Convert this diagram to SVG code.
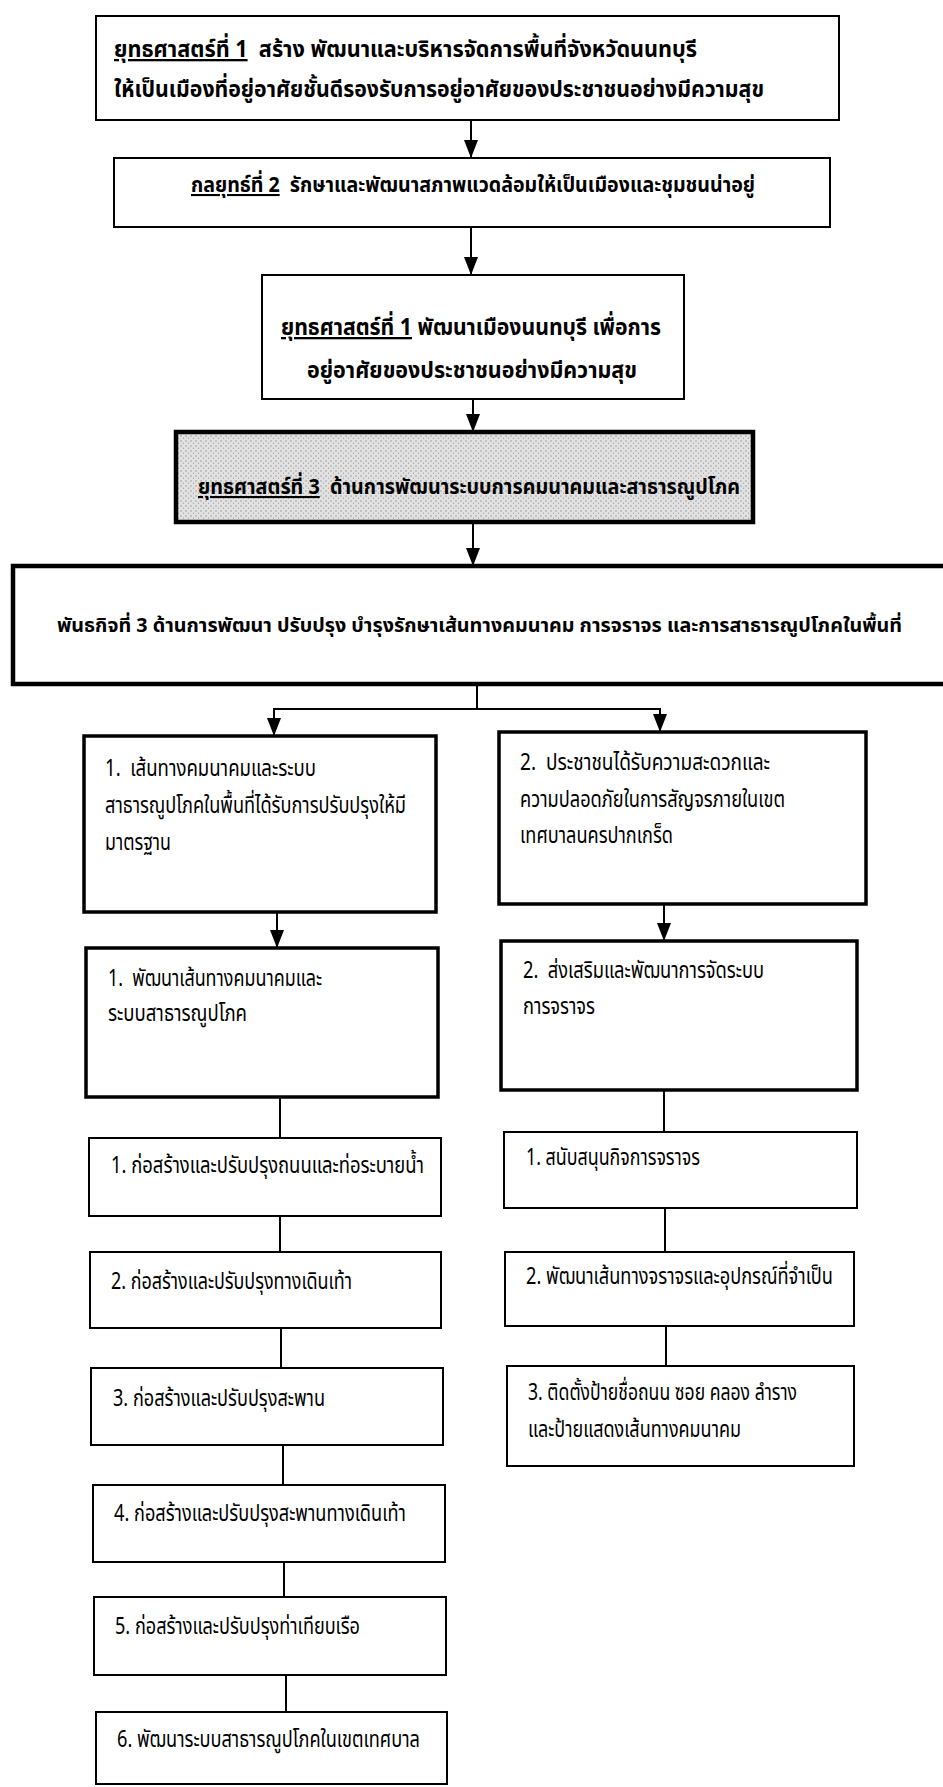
<svg xmlns="http://www.w3.org/2000/svg" width="943" height="1787" viewBox="0 0 943 1787">
<style>
.t{font-family:"Noto Sans Thai","Noto Sans","DejaVu Sans",sans-serif;font-size:23px;fill:#000}
.b{font-weight:bold}
.u{text-decoration:underline}
.box{fill:#fff;stroke:#000;stroke-width:2}
.thick{stroke-width:3.5}
.heavy{stroke-width:4.5}
.c{fill:none;stroke:#000;stroke-width:2}
</style>
<defs>
<pattern id="dots" width="5" height="5" patternUnits="userSpaceOnUse">
<rect width="5" height="5" fill="#e2e2e2"/>
<circle cx="1" cy="1" r="0.7" fill="#8a8a8a"/>
<circle cx="3.5" cy="3.2" r="0.6" fill="#9a9a9a"/>
</pattern>
<marker id="arr" markerWidth="18" markerHeight="14" refX="18" refY="7" orient="auto" markerUnits="userSpaceOnUse" viewBox="0 0 18 14">
<path d="M0,0 L18,7 L0,14 Z" fill="#000"/>
</marker>
</defs>

<g id="connectors">
<line class="c" x1="471" y1="120" x2="471" y2="158" marker-end="url(#arr)"/>
<line class="c" x1="471" y1="227" x2="471" y2="275" marker-end="url(#arr)"/>
<line class="c" x1="473" y1="399" x2="473" y2="432" marker-end="url(#arr)"/>
<line class="c" x1="473" y1="522" x2="473" y2="566" marker-end="url(#arr)"/>
<polyline class="c" points="477,684 477,709 274,709 274,736" marker-end="url(#arr)"/>
<polyline class="c" points="477,709 660,709 660,732" marker-end="url(#arr)"/>
<line class="c" x1="277" y1="912" x2="277" y2="948" marker-end="url(#arr)"/>
<line class="c" x1="664" y1="904" x2="664" y2="941" marker-end="url(#arr)"/>
<line class="c" x1="280" y1="1097" x2="280" y2="1138"/>
<line class="c" x1="664" y1="1090" x2="664" y2="1132"/>
<line class="c" x1="280" y1="1216" x2="280" y2="1252"/>
<line class="c" x1="665" y1="1208" x2="665" y2="1252"/>
<line class="c" x1="281" y1="1328" x2="281" y2="1368"/>
<line class="c" x1="666" y1="1326" x2="666" y2="1366"/>
<line class="c" x1="283" y1="1445" x2="283" y2="1485"/>
<line class="c" x1="284" y1="1562" x2="284" y2="1597"/>
<line class="c" x1="286" y1="1675" x2="286" y2="1712"/>
</g>

<g id="n1">
<rect class="box" x="96" y="16" width="743" height="104"/>
<text class="t b" x="114" y="57" textLength="583" lengthAdjust="spacingAndGlyphs" xml:space="preserve"><tspan class="u">ยุทธศาสตร์ที่ 1</tspan>  สร้าง พัฒนาและบริหารจัดการพื้นที่จังหวัดนนทบุรี</text>
<text class="t b" x="114" y="97" textLength="650" lengthAdjust="spacingAndGlyphs">ให้เป็นเมืองที่อยู่อาศัยชั้นดีรองรับการอยู่อาศัยของประชาชนอย่างมีความสุข</text>
</g>

<g id="n2">
<rect class="box" x="114" y="158" width="716" height="69"/>
<text class="t b" x="191" y="192" style="font-size:21px" textLength="564" lengthAdjust="spacingAndGlyphs" xml:space="preserve"><tspan class="u">กลยุทธ์ที่ 2</tspan>  รักษาและพัฒนาสภาพแวดล้อมให้เป็นเมืองและชุมชนน่าอยู่</text>
</g>

<g id="n3">
<rect class="box" x="262" y="275" width="422" height="124"/>
<text class="t b" x="281" y="335" textLength="380" lengthAdjust="spacingAndGlyphs"><tspan class="u">ยุทธศาสตร์ที่ 1</tspan> พัฒนาเมืองนนทบุรี เพื่อการ</text>
<text class="t b" x="307" y="378" textLength="330" lengthAdjust="spacingAndGlyphs">อยู่อาศัยของประชาชนอย่างมีความสุข</text>
</g>

<g id="n4">
<rect class="box heavy" x="176" y="432" width="577" height="90" style="fill:url(#dots)"/>
<text class="t b" x="198" y="494" style="font-size:21px" textLength="542" lengthAdjust="spacingAndGlyphs" xml:space="preserve"><tspan class="u">ยุทธศาสตร์ที่ 3</tspan>  ด้านการพัฒนาระบบการคมนาคมและสาธารณูปโภค</text>
</g>

<g id="n5">
<rect class="box heavy" x="13" y="566" width="940" height="118"/>
<text class="t b" x="57" y="632" style="font-size:19px" textLength="845" lengthAdjust="spacingAndGlyphs">พันธกิจที่ 3 ด้านการพัฒนา ปรับปรุง บำรุงรักษาเส้นทางคมนาคม การจราจร และการสาธารณูปโภคในพื้นที่</text>
</g>

<g id="n6">
<rect class="box thick" x="84" y="736" width="352" height="176"/>
<text class="t" x="105" y="776" textLength="211" lengthAdjust="spacingAndGlyphs" xml:space="preserve">1.  เส้นทางคมนาคมและระบบ</text>
<text class="t" x="105" y="813" textLength="301" lengthAdjust="spacingAndGlyphs">สาธารณูปโภคในพื้นที่ได้รับการปรับปรุงให้มี</text>
<text class="t" x="105" y="850" textLength="66" lengthAdjust="spacingAndGlyphs">มาตรฐาน</text>
</g>

<g id="n7">
<rect class="box thick" x="499" y="732" width="367" height="172"/>
<text class="t" x="520" y="770" textLength="250" lengthAdjust="spacingAndGlyphs" xml:space="preserve">2.  ประชาชนได้รับความสะดวกและ</text>
<text class="t" x="520" y="807" textLength="265" lengthAdjust="spacingAndGlyphs">ความปลอดภัยในการสัญจรภายในเขต</text>
<text class="t" x="520" y="843" textLength="153" lengthAdjust="spacingAndGlyphs">เทศบาลนครปากเกร็ด</text>
</g>

<g id="n8">
<rect class="box thick" x="86" y="948" width="352" height="149"/>
<text class="t" x="108" y="986" textLength="214" lengthAdjust="spacingAndGlyphs" xml:space="preserve">1.  พัฒนาเส้นทางคมนาคมและ</text>
<text class="t" x="108" y="1021" textLength="139" lengthAdjust="spacingAndGlyphs">ระบบสาธารณูปโภค</text>
</g>

<g id="n9">
<rect class="box thick" x="501" y="941" width="356" height="149"/>
<text class="t" x="523" y="978" textLength="241" lengthAdjust="spacingAndGlyphs" xml:space="preserve">2.  ส่งเสริมและพัฒนาการจัดระบบ</text>
<text class="t" x="523" y="1014" textLength="72" lengthAdjust="spacingAndGlyphs">การจราจร</text>
</g>

<g id="l1">
<rect class="box" x="89" y="1138" width="352" height="78"/>
<text class="t" x="111" y="1173" textLength="313" lengthAdjust="spacingAndGlyphs">1. ก่อสร้างและปรับปรุงถนนและท่อระบายน้ำ</text>
</g>
<g id="r1">
<rect class="box" x="504" y="1132" width="353" height="76"/>
<text class="t" x="526" y="1165" textLength="174" lengthAdjust="spacingAndGlyphs">1. สนับสนุนกิจการจราจร</text>
</g>
<g id="l2">
<rect class="box" x="90" y="1252" width="351" height="76"/>
<text class="t" x="111" y="1289" textLength="241" lengthAdjust="spacingAndGlyphs">2. ก่อสร้างและปรับปรุงทางเดินเท้า</text>
</g>
<g id="r2">
<rect class="box" x="505" y="1252" width="349" height="74"/>
<text class="t" x="526" y="1284" textLength="307" lengthAdjust="spacingAndGlyphs">2. พัฒนาเส้นทางจราจรและอุปกรณ์ที่จำเป็น</text>
</g>
<g id="l3">
<rect class="box" x="91" y="1368" width="352" height="77"/>
<text class="t" x="113" y="1406" textLength="212" lengthAdjust="spacingAndGlyphs">3. ก่อสร้างและปรับปรุงสะพาน</text>
</g>
<g id="r3">
<rect class="box" x="507" y="1366" width="347" height="100"/>
<text class="t" x="528" y="1400" textLength="269" lengthAdjust="spacingAndGlyphs">3. ติดตั้งป้ายชื่อถนน ซอย คลอง ลำราง</text>
<text class="t" x="528" y="1437" textLength="213" lengthAdjust="spacingAndGlyphs">และป้ายแสดงเส้นทางคมนาคม</text>
</g>
<g id="l4">
<rect class="box" x="93" y="1485" width="352" height="77"/>
<text class="t" x="114" y="1521" textLength="292" lengthAdjust="spacingAndGlyphs">4. ก่อสร้างและปรับปรุงสะพานทางเดินเท้า</text>
</g>
<g id="l5">
<rect class="box" x="94" y="1597" width="352" height="78"/>
<text class="t" x="115" y="1634" textLength="245" lengthAdjust="spacingAndGlyphs">5. ก่อสร้างและปรับปรุงท่าเทียบเรือ</text>
</g>
<g id="l6">
<rect class="box" x="96" y="1712" width="351" height="72"/>
<text class="t" x="117" y="1747" textLength="303" lengthAdjust="spacingAndGlyphs">6. พัฒนาระบบสาธารณูปโภคในเขตเทศบาล</text>
</g>
</svg>
